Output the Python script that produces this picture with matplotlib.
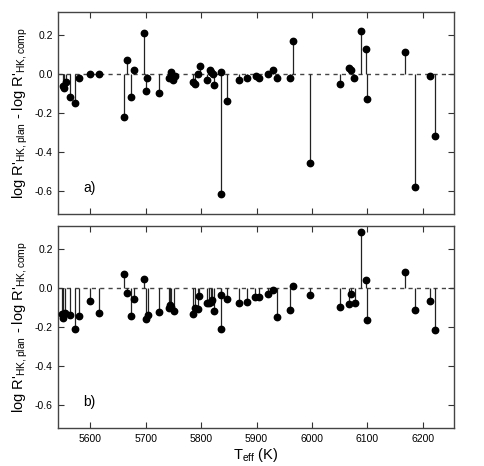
import matplotlib
matplotlib.use('Agg')
import matplotlib.pyplot as plt

# panel a) data
teff_a = [5550.7, 5552.5, 5555.5, 5563, 5572, 5579.6, 5599, 5615, 5661, 5667,
          5673, 5679, 5697, 5701, 5703, 5724, 5742.5, 5745.5, 5749, 5752,
          5786, 5788, 5793.6, 5797, 5810, 5815, 5818, 5821, 5822.5, 5836,
          5835.7, 5847, 5869, 5882, 5898, 5904, 5920, 5929, 5936, 5960,
          5966, 5997, 6050, 6067, 6070, 6076, 6089, 6097, 6099, 6168,
          6185, 6213, 6221]
dr_a = [-0.063, -0.073, -0.04, -0.12, -0.15, -0.02, 0.0, 0.0, -0.22, 0.07,
        -0.12, 0.02, 0.21, -0.09, -0.02, -0.10, -0.02, 0.01, -0.03, -0.01,
        -0.04, -0.05, 0.0, 0.04, -0.03, 0.02, 0.01, 0.0, -0.06, 0.01,
        -0.62, -0.14, -0.03, -0.02, -0.01, -0.02, 0.0, 0.02, -0.02, -0.02,
        0.17, -0.46, -0.05, 0.03, 0.02, -0.02, 0.22, 0.13, -0.13, 0.11,
        -0.58, -0.01, -0.32]

# panel b) data
teff_b = [5549.5, 5551, 5553.7, 5563, 5572, 5579.6, 5599, 5615.6, 5661, 5667,
          5674, 5679, 5697, 5701, 5703.5, 5724, 5741, 5744, 5746, 5751.5,
          5786, 5788, 5793.6, 5796.6, 5810, 5814, 5818, 5820, 5822.5, 5836,
          5836.5, 5847, 5869, 5882, 5897.6, 5904, 5920, 5929, 5936, 5960,
          5966, 5997, 6050, 6067, 6070, 6077, 6089, 6097, 6099, 6168,
          6185, 6213, 6221]
dr_b = [-0.134, -0.155, -0.127, -0.137, -0.21, -0.143, -0.068, -0.127, 0.073, -0.024,
        -0.143, -0.057, 0.045, -0.162, -0.141, -0.122, -0.104, -0.09, -0.099, -0.117,
        -0.132, -0.103, -0.108, -0.043, -0.08, -0.077, -0.07, -0.063, -0.118, -0.21,
        -0.037, -0.056, -0.08, -0.073, -0.047, -0.045, -0.031, -0.009, -0.151, -0.115,
        0.01, -0.035, -0.096, -0.085, -0.033, -0.077, 0.285, 0.04, -0.165, 0.08,
        -0.115, -0.066, -0.215]

xticks = [5600, 5700, 5800, 5900, 6000, 6100, 6200]
yticks = [0.2, 0.0, -0.2, -0.4, -0.6]
ylab = "log R'$_{\\rm HK,plan}$ - log R'$_{\\rm HK,comp}$"

plt.rcParams['font.family'] = ['Liberation Sans', 'DejaVu Sans']
plt.rcParams['mathtext.fontset'] = 'custom'
plt.rcParams['mathtext.rm'] = 'Liberation Sans'

fig = plt.figure(figsize=(4.85, 4.66), dpi=100)
ax_a = fig.add_axes([0.12, 0.541, 0.816, 0.433])
ax_b = fig.add_axes([0.12, 0.0815, 0.816, 0.433])

for ax, tx, dr, lab in [(ax_a, teff_a, dr_a, 'a)'), (ax_b, teff_b, dr_b, 'b)')]:
    ax.axhline(0, color='#444444', lw=1.0, ls=(0, (3, 3)), zorder=1)
    ax.vlines(tx, 0, dr, color='#222222', lw=0.9, zorder=2)
    ax.plot(tx, dr, 'o', color='black', ms=4.6, zorder=3)
    ax.set_xlim(5542, 6256)
    ax.set_ylim(-0.72, 0.317)
    ax.set_xticks(xticks)
    ax.set_yticks(yticks)
    ax.set_yticklabels(['%.1f' % v for v in yticks])
    ax.tick_params(direction='in', top=True, right=True, length=4,
                   width=0.8, color='#333333', labelsize=7.5, pad=4)
    for s in ax.spines.values():
        s.set_color('#444444')
        s.set_linewidth(1.0)
    ax.set_ylabel(ylab, fontsize=10.5, labelpad=3)
    ax.text(5587, -0.585, lab, fontsize=10, va='center', ha='left')

ax_a.tick_params(labelbottom=False)
ax_b.set_xlabel('T$_{\\rm eff}$ (K)', fontsize=10.5, labelpad=2)

fig.savefig('out.png', dpi=100)
